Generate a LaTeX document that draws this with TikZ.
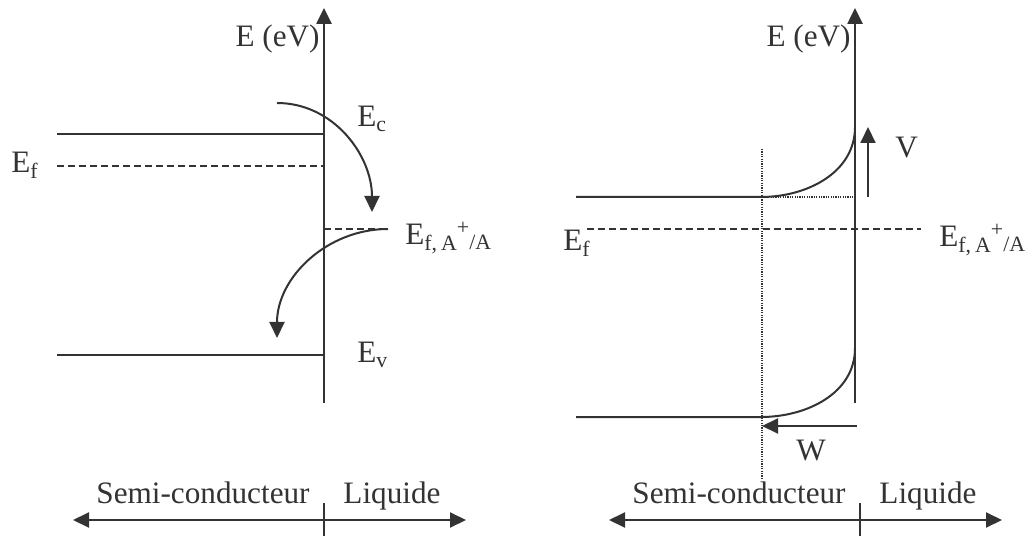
\documentclass[tikz,border=0pt]{standalone}
\usepackage{fontspec}
\setmainfont{Liberation Serif}
\usetikzlibrary{arrows.meta}
\definecolor{ink}{HTML}{333333}

\begin{document}
\begin{tikzpicture}[x=0.5pt,y=0.5pt,font=\fontsize{15.6}{18}\selectfont,
 band/.style={draw=ink,line width=1pt},
 axis/.style={draw=ink,line width=1.3pt},
 level/.style={draw=ink,line width=0.8pt,dash pattern=on 3.5pt off 2pt},
 guide/.style={draw=ink,line width=0.6pt,dash pattern=on 0.6pt off 0.6pt},
 tip/.style={-{Triangle[length=8pt,width=7.5pt]}},
 lbl/.style={text=ink,inner sep=0pt}]
\useasboundingbox (0,0) rectangle (1028,536);
% energy axes
\foreach \a/\p in {324/l,855/r}{
 \coordinate (\p ax0) at (\a,133); \coordinate (\p ax1) at (\a,528);
 \draw[axis,tip] (\p ax0) -- (\p ax1);
 \node[lbl,anchor=base east] (\p eV) at (\a-4,489) {E (eV)};}
% left: before contact
\coordinate (lc0) at (57,402); \coordinate (lc1) at (324,402);
\coordinate (lf0) at (57,370); \coordinate (lf1) at (324,370);
\coordinate (lv0) at (57,181); \coordinate (lv1) at (324,181);
\coordinate (la0) at (324,307); \coordinate (la1) at (388,307);
\draw[band] (lc0) -- (lc1);
\draw[level] (lf0) -- (lf1);
\draw[band] (lv0) -- (lv1);
\draw[level] (la0) -- (la1);
\node[lbl,anchor=base west] (lEf) at (11,363) {E\textsubscript{f}};
\node[lbl,anchor=base west] (lEc) at (357,409) {E\textsubscript{c}};
\node[lbl,anchor=base west] (lEv) at (357,173) {E\textsubscript{v}};
\node[lbl,anchor=base west] (lEa) at (405,291) {E\textsubscript{f,\kern2pt A}\kern-0.5pt\textsuperscript{+}\kern-0.5pt\textsubscript{/A}};
\coordinate (t1a) at (277,433); \coordinate (t1b) at (372,324);
\coordinate (t2b) at (277,198);
\draw[band,tip] (t1a) to[out=0,in=90] (t1b);
\draw[band,tip] (la1) to[out=180,in=90] (t2b);
% right: after contact, band bending
\coordinate (rc0) at (576,339); \coordinate (rc1) at (761,339); \coordinate (rc2) at (855,409);
\coordinate (rv0) at (576,119); \coordinate (rv1) at (761,119); \coordinate (rv2) at (855,188);
\coordinate (rf0) at (587,307); \coordinate (rf1) at (921,307);
\draw[band] (rc0) -- (rc1) to[out=0,in=-90] (rc2);
\draw[band] (rv0) -- (rv1) to[out=0,in=-90] (rv2);
\draw[level] (rf0) -- (rf1);
\coordinate (rw0) at (762,387); \coordinate (rw1) at (762,56);
\coordinate (rh1) at (855,339);
\draw[guide] (rw0) -- (rw1);
\draw[guide] (rc1) -- (rh1);
\coordinate (v0) at (868,339); \coordinate (v1) at (868,409);
\draw[band,tip] (v0) -- (v1);
\coordinate (w0) at (857,110); \coordinate (w1) at (762,110);
\draw[band,tip] (w0) -- (w1);
\node[lbl,anchor=base west] (rV) at (895,378) {V};
\node[lbl,anchor=base] (rW) at (811,76) {W};
\node[lbl,anchor=base west] (rEf) at (563,285) {E\textsubscript{f}};
\node[lbl,anchor=base west] (rEa) at (939,289) {E\textsubscript{f,\kern2pt A}\kern-0.5pt\textsuperscript{+}\kern-0.5pt\textsubscript{/A}};
% interface scale
\foreach \t/\p in {324/l,860/r}{
 \coordinate (\p s0) at (\t-251,16); \coordinate (\p s1) at (\t+142,16);
 \coordinate (\p k0) at (\t,33); \coordinate (\p k1) at (\t,0);
 \draw[band,{Triangle[length=8pt,width=7.5pt]}-{Triangle[length=8pt,width=7.5pt]}] (\p s0) -- (\p s1);
 \draw[band] (\p k0) -- (\p k1);
 \node[lbl,anchor=base] (\p sc) at (\t-121,33) {Semi-conducteur};
 \node[lbl,anchor=base] (\p liq) at (\t+68,33) {Liquide};}
\end{tikzpicture}
\end{document}
